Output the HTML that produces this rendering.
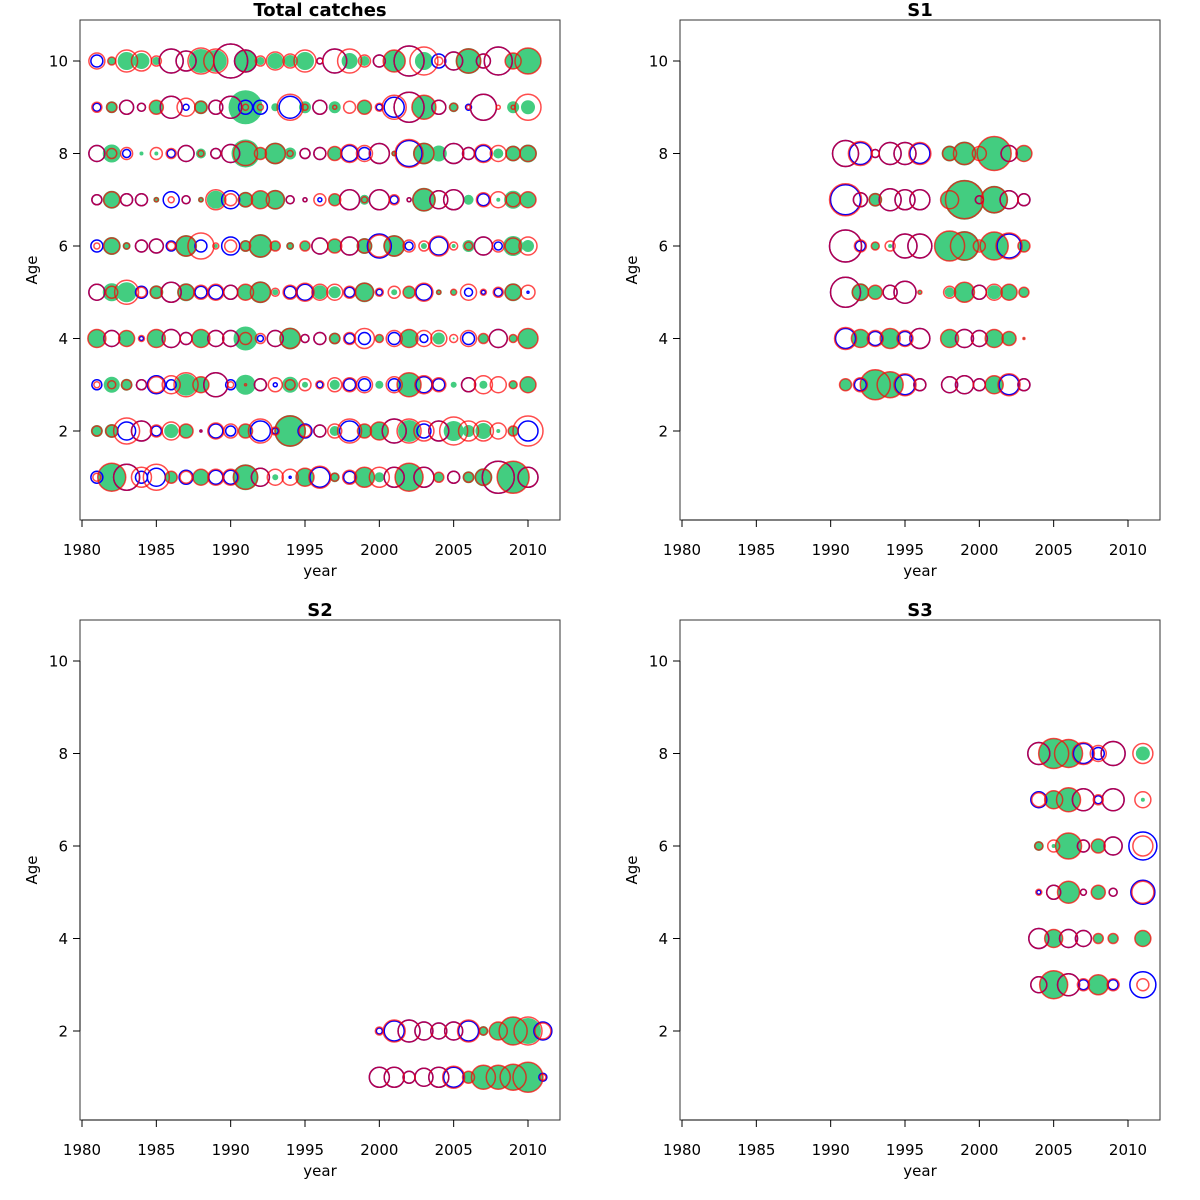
<!DOCTYPE html>
<html><head><meta charset="utf-8"><style>
body{margin:0;background:#fff}
svg{display:block;font-family:"DejaVu Sans","Liberation Sans",sans-serif}
</style></head><body>
<svg id="chart" width="1200" height="1200" viewBox="0 0 1200 1200" xmlns="http://www.w3.org/2000/svg"></svg>
<script>
// ---------- Data (bubble radii) ----------
const p1Years = [1981,1982,1983,1984,1985,1986,1987,1988,1989,1990,1991,1992,1993,1994,1995,1996,1997,1998,1999,2000,2001,2002,2003,2004,2005,2006,2007,2008,2009,2010];
const p1Ages = [10,9,8,7,6,5,4,3,2,1];
const p1Green = [
[0,4,9,8,4,0,0,12,11,0,11,4,8,6,9,0,0,8,5,0,11,0,9,0,0,13,0,0,8,13],
[0,6,0,0,7,0,0,7,0,0,17,0,4,0,6,0,6,0,7,0,0,0,12,0,5,0,0,0,6,7],
[0,9,0,2,2,0,0,5,0,0,14,6,11,6,0,0,7,0,0,0,3,0,11,8,0,0,0,5,8,9],
[0,9,0,0,3,0,0,3,9,0,8,9,10,0,0,0,6,0,5,0,0,0,12,0,0,5,0,2,9,8],
[0,9,4,0,0,0,11,0,2,0,6,12,5,4,5,0,7,0,8,0,11,0,3,0,2,6,0,0,10,6],
[0,9,10,0,7,0,9,0,0,0,8,11,3,0,0,7,6,0,10,0,3,6,0,3,3,0,0,0,9,0],
[9,0,8,0,9,0,0,9,0,0,12,0,0,11,0,0,6,0,0,4,0,9,0,6,1,0,5,0,4,10],
[0,8,6,0,0,0,11,8,0,0,10,0,0,8,3,0,5,0,0,4,0,12,0,0,3,0,4,0,4,8],
[6,7,0,0,0,7,7,0,0,0,7,0,0,16,0,0,5,0,7,9,0,11,0,0,10,6,8,2,5,0],
[0,14,0,0,0,6,0,8,0,0,13,0,3,0,9,0,5,0,10,5,0,14,0,5,0,6,9,0,16,0]];
const p1Red = [
[8,4,11,10,5,12,10,13,12,17,11,5,9,7,11,3,12,12,6,6,11,15,14,4,9,12,7,14,8,13],
[5,5,7,4,7,11,9,6,7,11,3,3,0,13,3,7,2,6,7,4,12,15,12,7,4,2,13,2,2,13],
[8,5,6,0,6,5,8,3,5,9,12,6,10,3,5,6,7,9,8,10,2,14,10,0,10,6,9,8,7,8],
[5,8,6,6,2,3,4,2,10,6,7,9,9,4,2,6,6,10,3,10,5,2,11,9,10,0,7,8,7,8],
[3,8,3,6,7,4,10,13,3,6,5,11,5,3,5,8,7,9,7,11,10,6,5,10,4,4,9,6,8,9],
[8,6,12,5,6,10,8,7,8,7,8,10,4,7,9,8,8,6,9,4,6,6,9,2,3,8,3,5,8,7],
[9,8,8,3,9,9,6,9,8,8,6,5,8,10,4,6,5,6,10,4,8,9,8,8,4,8,5,9,4,10],
[3,4,5,5,8,9,12,8,12,3,1,6,7,5,6,4,7,7,8,0,8,12,9,7,0,7,9,8,4,8],
[5,6,13,10,6,9,7,1,8,7,7,12,4,15,6,6,7,12,7,9,12,12,10,10,14,10,10,8,5,15],
[4,14,13,10,13,6,6,8,8,8,12,9,8,8,9,11,4,7,10,10,10,14,10,5,6,5,8,16,16,10]];
const p1Blue = [
[6,0,0,0,0,12,10,0,0,17,11,0,0,0,0,3,12,0,0,6,0,15,0,7,9,0,7,14,0,0],
[4,0,7,4,0,11,3,0,7,11,7,7,0,11,0,7,0,0,0,3,10,15,0,7,0,3,13,0,0,0],
[8,0,4,0,0,4,8,0,5,9,0,0,0,0,5,6,0,8,6,10,0,13,0,0,10,6,8,0,0,0],
[5,0,6,6,0,8,4,0,0,9,0,0,0,4,2,2,0,10,0,10,4,2,0,9,10,0,6,0,0,0],
[6,0,0,6,7,5,0,6,0,9,0,0,0,0,0,8,0,9,0,12,0,4,0,9,0,0,9,4,0,0],
[8,0,0,6,0,10,0,6,7,7,0,0,0,6,8,0,0,5,0,3,0,0,8,0,0,4,2,4,0,1],
[0,8,0,2,0,9,6,0,8,8,0,3,8,0,4,6,0,5,6,0,6,0,4,0,0,6,0,9,0,0],
[5,0,0,5,9,5,0,0,12,5,0,6,2,0,0,3,0,6,6,0,6,0,8,6,0,7,0,0,0,0],
[0,0,9,10,5,0,0,1,7,5,0,10,3,0,7,6,0,10,0,0,12,0,7,10,0,0,0,0,0,10],
[6,0,13,6,9,0,7,0,7,7,0,9,0,1,0,10,0,6,0,0,10,0,10,0,6,0,0,16,0,10]];

const s1Years = [1991,1992,1993,1994,1995,1996,1997,1998,1999,2000,2001,2002,2003];
const s1Ages = [8,7,6,5,4,3];
const s1Green = [[0,0,0,0,0,0,0,8,12,6,17,0,8],[0,0,7,0,0,0,0,9,20,0,14,0,0],[0,0,4,2,0,0,0,15,15,5,14,0,6],[0,9,7,0,0,2,0,5,10,0,7,8,5],[0,9,0,10,0,0,0,9,0,0,9,7,1],[6,0,15,13,0,0,0,0,0,0,9,0,0]];
const s1Red = [[13,12,4,11,11,11,0,7,11,7,17,8,8],[16,7,6,11,10,10,0,9,19,4,13,9,6],[16,6,4,5,12,12,0,15,14,6,14,13,6],[15,8,7,7,11,2,0,6,10,7,8,8,5],[11,9,8,10,8,10,0,9,9,8,9,7,1],[6,7,15,13,11,6,0,8,9,6,9,11,6]];
const s1Blue = [[13,11,4,11,11,10,0,0,0,0,0,8,0],[15,7,0,11,10,10,0,0,0,4,0,9,6],[16,5,0,0,12,12,0,0,0,0,0,12,0],[15,0,0,7,11,0,0,0,0,7,0,0,0],[10,0,7,0,7,10,0,0,9,8,0,0,0],[0,6,0,0,10,6,0,8,9,6,0,10,6]];

const s2Years = [2000,2001,2002,2003,2004,2005,2006,2007,2008,2009,2010,2011];
const s2Ages = [2,1];
const s2Green = [[0,0,0,0,0,0,0,5,9,14,13,0],[0,0,0,0,0,0,6,12,12,13,15,0]];
const s2Red = [[4,11,11,9,8,9,11,4,9,14,14,8],[10,10,6,9,10,11,6,12,12,13,15,3]];
const s2Blue = [[3,10,11,9,8,9,10,0,0,0,0,9],[10,10,6,9,10,10,0,0,0,0,0,4]];

const s3Years = [2004,2005,2006,2007,2008,2009,2010,2011];
const s3Ages = [8,7,6,5,4,3];
const s3Green = [[0,15,14,0,0,0,0,7],[0,9,12,0,0,0,0,2],[5,2,13,0,7,0,0,0],[0,0,11,0,7,0,0,0],[0,9,0,0,5,5,0,8],[0,14,0,0,10,0,0,0]];
const s3Red = [[11,15,14,11,8,12,0,10],[7,9,12,11,5,11,0,8],[4,6,13,6,7,9,0,10],[3,7,11,3,7,4,0,11],[10,9,9,8,5,5,0,8],[8,14,11,6,10,6,0,6]];
const s3Blue = [[11,0,0,10,6,12,0,0],[8,0,0,11,4,11,0,0],[0,0,0,6,0,9,0,14],[2,7,0,3,0,4,0,12],[10,0,9,8,0,0,0,0],[8,0,11,5,0,5,0,13]];

const xTicks = [1980,1985,1990,1995,2000,2005,2010];
const yTicks = [2,4,6,8,10];

// ---------- Drawing ----------
const NS = "http://www.w3.org/2000/svg";
const svg = document.getElementById('chart');
function mk(tag, attrs, parent){const e=document.createElementNS(NS,tag);for(const k in attrs)e.setAttribute(k,attrs[k]);(parent||svg).appendChild(e);return e;}

const panels = [
 {name:'total-catches', title:'Total catches', left:80, top:20, years:p1Years, ages:p1Ages, g:p1Green, r:p1Red, b:p1Blue},
 {name:'s1', title:'S1', left:680, top:20, years:s1Years, ages:s1Ages, g:s1Green, r:s1Red, b:s1Blue},
 {name:'s2', title:'S2', left:80, top:620, years:s2Years, ages:s2Ages, g:s2Green, r:s2Red, b:s2Blue},
 {name:'s3', title:'S3', left:680, top:620, years:s3Years, ages:s3Ages, g:s3Green, r:s3Red, b:s3Blue}
];

panels.forEach(p=>{
  const grp = mk('g',{});
  
  
  const xs = yr => p.left + 2 + (yr-1980)*(446/30);
  const ys = a => p.top + 41 + (10-a)*46.25;
  const W=480,H=500;
  const box = mk('rect',{x:p.left,y:p.top,width:W,height:H,fill:'none',stroke:'#333','stroke-width':1},grp);
  
  
  const t = mk('text',{x:p.left+W/2,y:p.top-4,'text-anchor':'middle','font-size':18,'font-weight':'bold'},grp);
  t.textContent = p.title;
  
  
  const xa = mk('g',{},grp);
  
  
  mk('line',{x1:xs(xTicks[0]),x2:xs(xTicks[xTicks.length-1]),y1:p.top+H,y2:p.top+H,stroke:'#000'},xa);
  xTicks.forEach(v=>{
    mk('line',{x1:xs(v),x2:xs(v),y1:p.top+H,y2:p.top+H+7,stroke:'#000'},xa);
    const tl = mk('text',{x:xs(v),y:p.top+H+35,'text-anchor':'middle','font-size':15},xa);
    tl.textContent = v;
    
    
  });
  const xt = mk('text',{x:p.left+W/2,y:p.top+H+56,'text-anchor':'middle','font-size':15},grp);
  xt.textContent='year';
  
  
  const ya = mk('g',{},grp);
  
  
  mk('line',{x1:p.left,x2:p.left,y1:ys(yTicks[0]),y2:ys(yTicks[yTicks.length-1]),stroke:'#000'},ya);
  yTicks.forEach(v=>{
    mk('line',{x1:p.left-7,x2:p.left,y1:ys(v),y2:ys(v),stroke:'#000'},ya);
    const tl = mk('text',{x:p.left-12,y:ys(v)+5.5,'text-anchor':'end','font-size':15},ya);
    tl.textContent = v;
    
    
  });
  const yt = mk('text',{x:0,y:0,'text-anchor':'middle','font-size':15,transform:`translate(${p.left-43},${p.top+H/2}) rotate(-90)`},grp);
  yt.textContent='Age';
  
  
  const layers = [
    {arr:p.g, attrs:{fill:'#43CD80',stroke:'none'}, nm:'observed-bubble'},
    {arr:p.b, attrs:{fill:'none',stroke:'#0000ff','stroke-width':1.5}, nm:'blue-fit-circle'},
    {arr:p.r, attrs:{fill:'none',stroke:'rgba(255,0,0,0.7)','stroke-width':1.5}, nm:'red-fit-circle'}
  ];
  layers.forEach(L=>{
    p.ages.forEach((a,i)=>{
      p.years.forEach((yr,j)=>{
        const v = L.arr[i][j];
        if(!v) return;
        const c = mk('circle',Object.assign({cx:xs(yr),cy:ys(a),r:v},L.attrs),grp);
        
        
      });
    });
  });
});
</script>
</body></html>
